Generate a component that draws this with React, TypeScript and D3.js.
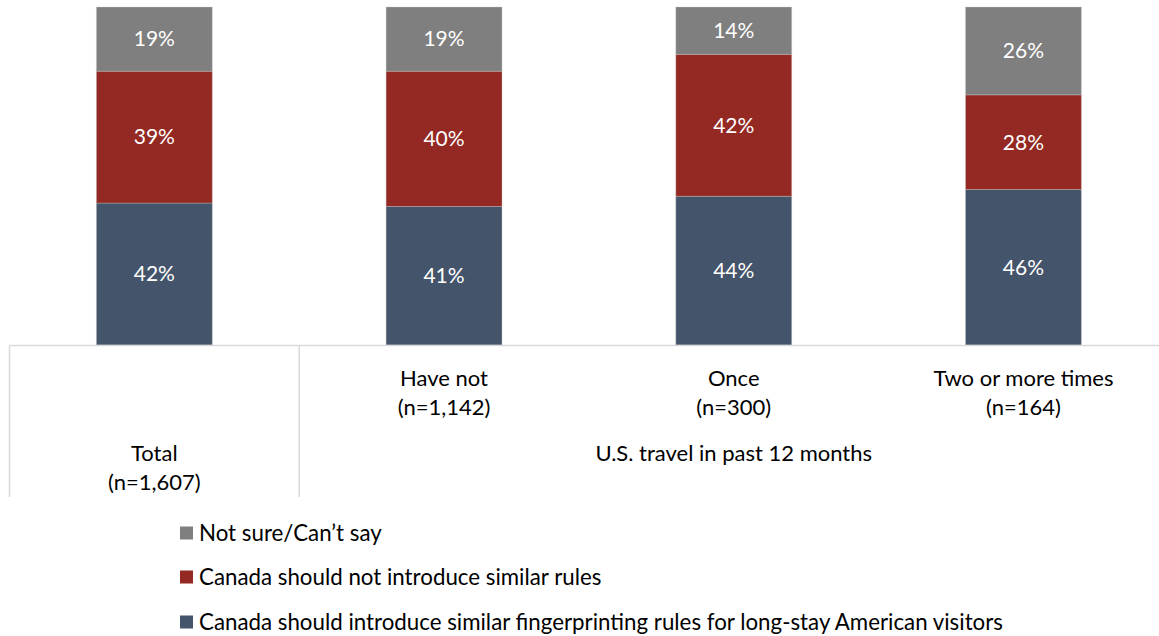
import React from "react";
import * as d3 from "d3";

const categories = ["Total", "Have not", "Once", "Two or more times"];
const sampleSizes = ["(n=1,607)", "(n=1,142)", "(n=300)", "(n=164)"];
const introduce = [42, 41, 44, 46];
const notIntroduce = [39, 40, 42, 28];
const notSure = [19, 19, 14, 26];
const seriesNames = [
  "Not sure/Can\u2019t say",
  "Canada should not introduce similar rules",
  "Canada should introduce similar fingerprinting rules for long-stay American visitors",
];
const groupLabel = "U.S. travel in past 12 months";

const W = 1159;
const H = 636;
const FONT = "Lato, 'Open Sans', sans-serif";

export default function App() {
  const x = d3.scaleBand<string>().domain(categories).range([9.5, 1168.3]).paddingInner(0.6).paddingOuter(0.3);
  const xCenter = (c: string) => (x(c) as number) + x.bandwidth() / 2;
  const y = d3.scaleLinear().domain([0, 100]).range([345, 7]);
  const step = x.step();
  const bandStart = (i: number) => 9.5 + i * step;

  const rows = categories.map((c, i) => ({ c, a: introduce[i], b: notIntroduce[i], s: notSure[i] }));
  const stack = d3.stack<any>().keys(["a", "b", "s"])(rows);
  const colors = ["#44546a", "#932922", "#7f7f7f"];

  const legendColors = ["#7f7f7f", "#932922", "#44546a"];
  const legendY = [533, 577, 622];

  return (
    <svg width={W} height={H} style={{ position: "absolute", left: 0, top: 0 }} fontFamily={FONT}>
      {stack.map((layer, li) =>
        layer.map((d, i) => {
          const c = categories[i];
          const y0 = y(d[0]);
          const y1 = y(d[1]);
          return (
            <g key={`${li}-${i}`}>
              <rect x={x(c)} y={y1} width={x.bandwidth()} height={y0 - y1} fill={colors[li]} stroke="#c8c8c8" strokeOpacity={0.35} strokeWidth={1} />
              <text x={xCenter(c)} y={(y0 + y1) / 2} dy="0.35em" textAnchor="middle" fill="#ffffff" fontSize={21}>
                {`${d[1] - d[0]}%`}
              </text>
            </g>
          );
        })
      )}
      <line x1={9.5} x2={W} y1={345.5} y2={345.5} stroke="#d9d9d9" strokeWidth={1.5} />
      <line x1={9.5} x2={9.5} y1={345.5} y2={497} stroke="#d9d9d9" strokeWidth={1.5} />
      <line x1={bandStart(1)} x2={bandStart(1)} y1={345.5} y2={497} stroke="#d9d9d9" strokeWidth={1.5} />
      {categories.map((c, i) => {
        const top = i === 0 ? 453 : 378;
        return (
          <g key={c}>
            <text x={xCenter(c)} y={top} dy="0.35em" textAnchor="middle" fontSize={22} fill="#000">{c}</text>
            <text x={xCenter(c)} y={top + 29} dy="0.35em" textAnchor="middle" fontSize={22} fill="#000">{sampleSizes[i]}</text>
          </g>
        );
      })}
      <text x={(bandStart(1) + bandStart(4)) / 2} y={453} dy="0.35em" textAnchor="middle" fontSize={22} fill="#000">{groupLabel}</text>
      {seriesNames.map((n, i) => (
        <g key={n}>
          <rect x={180} y={legendY[i] - 6.5} width={13} height={13} fill={legendColors[i]} />
          <text x={199} y={legendY[i]} dy="0.35em" fontSize={22.3} fill="#000">{n}</text>
        </g>
      ))}
    </svg>
  );
}
